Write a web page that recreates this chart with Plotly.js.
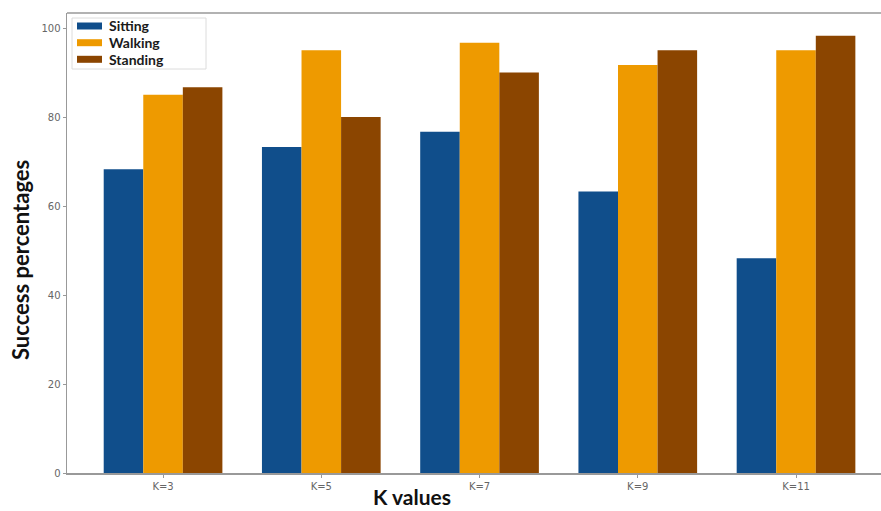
<!DOCTYPE html>
<html>
<head>
<meta charset="utf-8">
<script src="https://cdn.plot.ly/plotly-3.0.1.min.js"></script>
<style>html,body{margin:0;padding:0;background:#fff;}#chart{width:881px;height:511px;}</style>
</head>
<body>
<div id="chart"></div>
<script>
const categories = ["K=3", "K=5", "K=7", "K=9", "K=11"];
const seriesNames = ["Sitting", "Walking", "Standing"];
const sitting  = [68.3, 73.3, 76.7, 63.3, 48.3];
const walking  = [85.0, 95.0, 96.7, 91.7, 95.0];
const standing = [86.7, 80.0, 90.0, 95.0, 98.3];
const yTicks = [0, 20, 40, 60, 80, 100];

const colors = ['#104E8B', '#EE9A00', '#8B4500'];
const values = [sitting, walking, standing];

const data = seriesNames.map((name, i) => ({
  type: 'bar', name: name, x: categories, y: values[i],
  marker: {color: colors[i], line: {width: 0}},
  showlegend: false
}));

// pixel -> paper helpers (plot area: x 67..881, y 13..473)
const L = 67, W = 814, B = 473, H = 460;
const px = x => (x - L) / W;
const py = y => (B - y) / H;

const axisFont = {family: 'DejaVu Sans, sans-serif', size: 10, color: '#666'};
const titleFont = {family: 'Lato, sans-serif', size: 21, color: '#111', weight: 'bold'};
const legFont = {family: 'Lato, sans-serif', size: 14, color: '#1a1a1a', weight: 'bold'};

const shapes = [
  {type: 'line', xref: 'paper', yref: 'paper', x0: 0, x1: 1, y0: 1, y1: 1,
   line: {color: '#999', width: 1.5}},
  {type: 'rect', xref: 'paper', yref: 'paper', x0: px(72), x1: px(206), y0: py(18), y1: py(69),
   fillcolor: '#fff', line: {color: '#dcdcdc', width: 1}}
];
const annotations = [
  {text: 'K values', xref: 'paper', yref: 'paper', x: px(412), y: py(497),
   xanchor: 'center', yanchor: 'middle', showarrow: false, font: titleFont},
  {text: 'Success percentages', xref: 'paper', yref: 'paper', x: px(20), y: py(260),
   xanchor: 'center', yanchor: 'middle', textangle: -90, showarrow: false,
   font: {family: 'Lato, sans-serif', size: 22, color: '#111', weight: 'bold'}}
];
const legCenters = [26, 42.7, 59.3];
seriesNames.forEach((name, i) => {
  const c = legCenters[i];
  shapes.push({type: 'rect', xref: 'paper', yref: 'paper', x0: px(77), x1: px(102),
    y0: py(c - 3.5), y1: py(c + 3.5), fillcolor: colors[i], line: {width: 0}});
  annotations.push({text: name, xref: 'paper', yref: 'paper', x: px(108), y: py(c),
    xanchor: 'left', yanchor: 'middle', showarrow: false, font: legFont, borderpad: 0});
});

const layout = {
  width: 881, height: 511,
  margin: {l: 67, r: 0, t: 13, b: 38, pad: 0},
  paper_bgcolor: '#fff', plot_bgcolor: '#fff',
  barmode: 'group', bargap: 0.25, bargroupgap: 0,
  showlegend: false,
  xaxis: {
    type: 'category', range: [-0.607, 4.537],
    showline: true, linecolor: '#999', linewidth: 1.5,
    ticks: 'outside', ticklen: 3, tickcolor: '#999',
    tickfont: axisFont, showgrid: false, zeroline: false, fixedrange: true
  },
  yaxis: {
    range: [0, 103.4], tickvals: yTicks, ticktext: yTicks.map(String),
    showline: true, linecolor: '#999', linewidth: 1.5,
    ticks: 'outside', ticklen: 3, tickcolor: '#999',
    tickfont: axisFont, showgrid: false, zeroline: false, fixedrange: true
  },
  shapes: shapes,
  annotations: annotations
};

Plotly.newPlot('chart', data, layout, {displayModeBar: false, staticPlot: true});
</script>
</body>
</html>
